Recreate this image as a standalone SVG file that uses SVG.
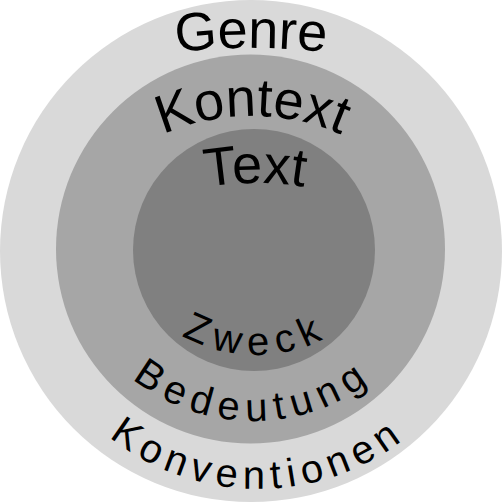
<svg xmlns="http://www.w3.org/2000/svg" xmlns:xlink="http://www.w3.org/1999/xlink" width="502" height="502" viewBox="0 0 502 502">
  <style>
    .lbl { font-family: "Liberation Sans", Arial, sans-serif; fill: #000; }
    .big { font-size: 54px; }
    .small { font-size: 40px; }
  </style>
  <defs>
    <path id="pGenre" d="M-449,748 A700,700 0 0 1 951,748"/>
    <path id="pKontext" d="M30,338 A222,222 0 0 1 474,338"/>
    <path id="pText" d="M-45,483 A300,300 0 0 1 555,483"/>
    <path id="pZweck" d="M106,205 A150,150 0 0 0 406,205"/>
    <path id="pBedeutung" d="M59,227 A194,194 0 0 0 447,227"/>
    <path id="pKonventionen" d="M19,250 A239,239 0 0 0 497,250"/>
  </defs>
  <g id="genre">
    <circle cx="251" cy="251" r="251" fill="#d9d9d9"/>
  </g>
  <g id="kontext">
    <circle cx="250.5" cy="249" r="194.5" fill="#a6a6a6"/>
  </g>
  <g id="text">
    <circle cx="254" cy="250" r="121" fill="#808080"/>
  </g>
  <g id="connectors"/>
  <g id="labels">
    <text class="lbl big"><textPath xlink:href="#pGenre" href="#pGenre" startOffset="50%" text-anchor="middle">Genre</textPath></text>
    <text class="lbl big"><textPath xlink:href="#pKontext" href="#pKontext" startOffset="50%" text-anchor="middle">Kontext</textPath></text>
    <text class="lbl big"><textPath xlink:href="#pText" href="#pText" startOffset="50%" text-anchor="middle">Text</textPath></text>
    <text class="lbl small" letter-spacing="8"><textPath xlink:href="#pZweck" href="#pZweck" startOffset="50%" text-anchor="middle">Zweck</textPath></text>
    <text class="lbl small" letter-spacing="7.5"><textPath xlink:href="#pBedeutung" href="#pBedeutung" startOffset="50%" text-anchor="middle">Bedeutung</textPath></text>
    <text class="lbl small" letter-spacing="6.4"><textPath xlink:href="#pKonventionen" href="#pKonventionen" startOffset="50%" text-anchor="middle">Konventionen</textPath></text>
  </g>
</svg>
